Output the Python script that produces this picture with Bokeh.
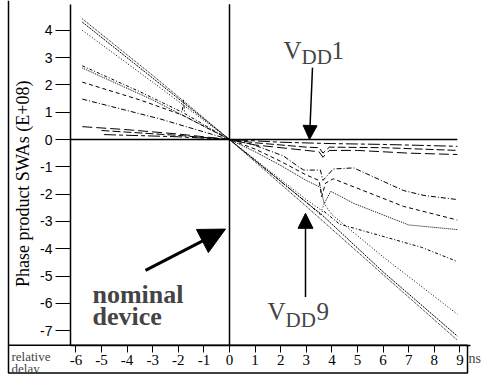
import math
from bokeh.plotting import figure
from bokeh.models import (Range1d, FixedTicker, Label, Arrow, NormalHead, BoxAnnotation)
from bokeh.embed import file_html
from bokeh.resources import INLINE

# ---------------- data ----------------
x_ticks = [-6, -5, -4, -3, -2, -1, 0, 1, 2, 3, 4, 5, 6, 7, 8, 9]
x_tick_labels = ["-6", "-5", "-4", "-3", "-2", "-1", "0", "1", "2", "3", "4", "5", "6", "7", "8", "9"]
y_ticks = [-7, -6, -5, -4, -3, -2, -1, 0, 1, 2, 3, 4]
y_tick_labels = ["-7", "-6", "-5", "-4", "-3", "-2", "-1", "0", "1", "2", "3", "4"]

x_axis_extent = [-6.21, 9.41]
y_axis_extent = [-7.54, 4.95]
zero_line_x = [-6.21, 8.9]
zero_line_y = [0, 0]
zero_vline_x = [0, 0]
zero_vline_y = [-7.54, 4.95]

# curves (relative delay in ns, phase product in E+08)
c01_x = [-5.75, -3.0, 0.0, 3.0, 6.0, 8.9]
c01_y = [4.42, 2.35, 0.0, -2.45, -4.95, -7.35]
c02_x = [-5.75, -3.0, 0.0, 3.0, 3.6, 6.0, 8.9]
c02_y = [4.30, 2.25, 0.0, -2.30, -2.75, -4.85, -7.20]
c03_x = [-5.75, -3.0, 0.0, 3.0, 3.6, 3.7, 4.0, 6.0, 8.9]
c03_y = [4.00, 2.10, 0.0, -2.20, -2.60, -2.35, -2.75, -4.30, -6.40]
c04_x = [-5.75, -3.5, -1.85, -1.8, -1.75, 0.0, 1.5, 3.0, 3.55, 3.65, 4.3, 6.0, 7.5, 8.9]
c04_y = [2.70, 1.75, 1.00, 1.45, 0.95, 0.0, -1.15, -2.30, -2.75, -2.60, -3.10, -3.55, -3.95, -4.47]
c05_x = [-5.75, -3.0, 0.0, 1.0, 2.0, 3.0, 3.55, 3.7, 3.95, 4.35, 4.85, 7.0, 8.9]
c05_y = [2.62, 1.45, 0.0, -0.45, -0.95, -1.50, -1.75, -2.35, -1.90, -2.09, -2.34, -3.13, -3.30]
c06_x = [-5.75, -3.5, -1.85, 0.0, 1.0, 2.0, 3.0, 3.5, 3.6, 3.75, 4.05, 6.8, 8.9]
c06_y = [2.10, 1.45, 0.90, 0.0, -0.35, -0.80, -1.30, -1.50, -2.10, -1.60, -1.44, -2.45, -2.95]
c07_x = [-5.75, -2.7, 0.0, 0.9, 2.1, 2.7, 2.9, 3.55, 3.65, 4.05, 4.85, 6.8, 7.6, 8.9]
c07_y = [1.48, 0.75, 0.0, -0.18, -0.60, -1.00, -1.12, -1.12, -1.50, -1.08, -1.04, -1.87, -2.05, -2.20]
c08_x = [-5.75, -4.0, -2.0, 0.0, 1.0, 3.0, 3.5, 3.65, 3.9, 5.0, 7.0, 8.9]
c08_y = [0.47, 0.36, 0.20, 0.0, -0.20, -0.40, -0.45, -0.65, -0.40, -0.40, -0.50, -0.55]
c09_x = [-5.0, -2.0, 0.0, 1.0, 3.0, 3.5, 3.65, 3.9, 6.0, 8.9]
c09_y = [0.33, 0.15, 0.0, -0.12, -0.28, -0.30, -0.50, -0.28, -0.30, -0.40]
c10_x = [-4.9, -2.0, 0.0, 2.0, 4.0, 6.0, 8.9]
c10_y = [0.18, 0.10, 0.0, -0.10, -0.15, -0.18, -0.25]

curves_x = [c01_x, c02_x, c03_x, c04_x, c05_x, c06_x, c07_x, c08_x, c09_x, c10_x]
curves_y = [c01_y, c02_y, c03_y, c04_y, c05_y, c06_y, c07_y, c08_y, c09_y, c10_y]
curve_dashes = ["1 1", "2 1", "1 2", "3 2 1 2", "1 1", "4 3", "5 2 1 2", "10 4", "8 3", "12 3 4 3"]

# ---------------- layout ----------------
W, H = 481, 374
X0_PX, X_PX_PER_UNIT = 229.0, 25.6
Y0_PX, Y_PX_PER_UNIT = 139.0, 27.3
REF_Y0_PX, REF_Y_PX_PER_UNIT = 140.0, 27.73


def px2x(px):
    return (px - X0_PX) / X_PX_PER_UNIT


def py2y(py):          # figure pixel -> data
    return (Y0_PX - py) / Y_PX_PER_UNIT


def ry(py):            # reference pixel -> data
    return (REF_Y0_PX - py) / REF_Y_PX_PER_UNIT


SERIF = "Liberation Serif"
SANS = "Liberation Sans"

p = figure(width=W, height=H, output_backend="svg", toolbar_location=None,
           title=None, x_range=Range1d(px2x(0), px2x(W)), y_range=Range1d(py2y(H), py2y(0)),
           min_border=0, min_border_left=0, min_border_right=0, min_border_top=0,
           min_border_bottom=0)
p.outline_line_color = None
p.grid.visible = False
p.background_fill_color = "white"
p.border_fill_color = "white"

# x axis
xa = p.xaxis[0]
xa.fixed_location = y_axis_extent[0]
xa.bounds = (x_axis_extent[0], x_axis_extent[1])
xa.ticker = FixedTicker(ticks=x_ticks, minor_ticks=[])
xa.major_label_overrides = {t: l for t, l in zip(x_ticks, x_tick_labels)}
xa.major_tick_in = 0
xa.major_tick_out = 7
xa.minor_tick_line_color = None
xa.axis_line_width = 1.5
xa.axis_line_color = "black"
xa.major_tick_line_color = "black"
xa.major_label_standoff = 3
xa.major_label_text_font = SERIF
xa.major_label_text_font_size = "15px"
xa.major_label_text_color = "black"

# y axis
ya = p.yaxis[0]
ya.fixed_location = x_axis_extent[0]
ya.bounds = (y_axis_extent[0], y_axis_extent[1])
ya.ticker = FixedTicker(ticks=y_ticks, minor_ticks=[])
ya.major_label_overrides = {t: l for t, l in zip(y_ticks, y_tick_labels)}
ya.major_tick_in = 0
ya.major_tick_out = 15
ya.minor_tick_line_color = None
ya.axis_line_width = 1.5
ya.axis_line_color = "black"
ya.major_tick_line_color = "black"
ya.major_label_standoff = 3
ya.major_label_text_font = SANS
ya.major_label_text_font_size = "14px"
ya.major_label_text_color = "black"

p.add_layout(Label(x=px2x(22), y=ry(185), text="Phase product SWAs (E+08)",
                   angle=math.pi / 2, text_align="center", text_baseline="middle",
                   text_font=SERIF, text_font_size="18px", text_color="black"))

# reference lines through the origin
p.line(zero_line_x, zero_line_y, line_color="black", line_width=1.5)
p.line(zero_vline_x, zero_vline_y, line_color="black", line_width=1.5)

# curves
for xs, ys, dash in zip(curves_x, curves_y, curve_dashes):
    p.line(xs, ys, line_color="black", line_width=1, line_dash=dash)

# frame lines: bottom box and left border
p.add_layout(BoxAnnotation(left=px2x(8), right=px2x(467), top=y_axis_extent[0], bottom=py2y(372.5),
                           fill_color=None, fill_alpha=0, line_color="black",
                           line_width=1.5, line_alpha=1))
p.add_layout(BoxAnnotation(left=px2x(8), right=px2x(8), top=py2y(0), bottom=y_axis_extent[0],
                           fill_color=None, fill_alpha=0, line_color="black",
                           line_width=1.5, line_alpha=1))

# bottom box texts
p.add_layout(Label(x=px2x(11), y=py2y(356), text="relative", text_font=SERIF,
                   text_font_size="13px", text_baseline="alphabetic"))
p.add_layout(Label(x=px2x(11), y=py2y(367.5), text="delay", text_font=SERIF,
                   text_font_size="13px", text_baseline="alphabetic"))
p.add_layout(Label(x=px2x(468), y=py2y(358), text="ns", text_font=SERIF,
                   text_font_size="14px", text_baseline="alphabetic"))

# annotations: VDD1
p.add_layout(Label(x=px2x(283), y=ry(50), text="V", text_font=SERIF,
                   text_font_size="25px", text_baseline="alphabetic"))
p.add_layout(Label(x=px2x(301), y=ry(56), text="DD", text_font=SERIF,
                   text_font_size="21px", text_baseline="alphabetic"))
p.add_layout(Label(x=px2x(331), y=ry(50), text="1", text_font=SERIF,
                   text_font_size="25px", text_baseline="alphabetic"))
p.add_layout(Arrow(x_start=px2x(312), y_start=ry(67), x_end=px2x(309), y_end=0.0,
                   line_color="black", line_width=1.5,
                   end=NormalHead(size=14, fill_color="black", line_color="black")))

# annotations: VDD9
p.add_layout(Label(x=px2x(267), y=ry(315), text="V", text_font=SERIF,
                   text_font_size="25px", text_baseline="alphabetic"))
p.add_layout(Label(x=px2x(285), y=ry(323), text="DD", text_font=SERIF,
                   text_font_size="21px", text_baseline="alphabetic"))
p.add_layout(Label(x=px2x(316), y=ry(315), text="9", text_font=SERIF,
                   text_font_size="25px", text_baseline="alphabetic"))
p.add_layout(Arrow(x_start=px2x(305), y_start=ry(300), x_end=px2x(305), y_end=ry(215),
                   line_color="black", line_width=1.5,
                   end=NormalHead(size=15, fill_color="black", line_color="black")))

# nominal device
p.add_layout(Label(x=px2x(92), y=ry(297), text="nominal", text_font=SERIF,
                   text_font_size="26px", text_font_style="bold", text_baseline="alphabetic"))
p.add_layout(Label(x=px2x(92), y=ry(320), text="device", text_font=SERIF,
                   text_font_size="26px", text_font_style="bold", text_baseline="alphabetic"))
p.add_layout(Arrow(x_start=px2x(145), y_start=ry(273), x_end=px2x(225), y_end=ry(231),
                   line_color="black", line_width=3,
                   end=NormalHead(size=26, fill_color="black", line_color="black")))

open("out.html", "w").write(file_html(p, INLINE))
